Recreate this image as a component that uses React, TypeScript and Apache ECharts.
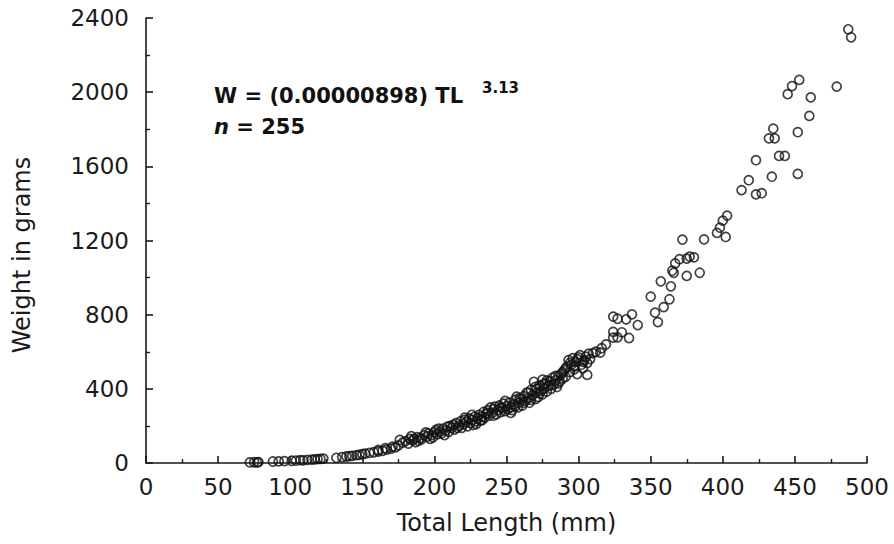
import React, { useEffect, useRef } from 'react';
import * as echarts from 'echarts';

// [total length mm, weight g]
const smallFish: number[][] = [
  [72, 3], [75, 4], [77, 3], [78, 5], [88, 8], [92, 9], [96, 10], [101, 12], [104, 13], [107, 15],
  [109, 14], [112, 17], [115, 18], [117, 20], [119, 21], [121, 22], [123, 24], [132, 28], [136, 32],
  [139, 35], [141, 37], [143, 38], [146, 42], [148, 44], [150, 48], [152, 50], [155, 55], [158, 58],
  [161, 62], [161, 70], [164, 66], [166, 80], [167, 72], [170, 78], [171, 88], [173, 84],
];
const fish175to205: number[][] = [
  [175, 95], [176, 124], [178, 110], [180, 118], [182, 105], [183, 130], [184, 145], [185, 122],
  [186, 130], [187, 112], [188, 140], [189, 120], [190, 135], [191, 128], [193, 150], [194, 165],
  [195, 142], [196, 160], [197, 130], [198, 150], [199, 138], [200, 165], [201, 178], [202, 155],
  [203, 185], [204, 170],
];
const fish205to230: number[][] = [
  [205, 160], [206, 185], [207, 150], [208, 175], [209, 196], [210, 168], [211, 200], [212, 190],
  [213, 205], [214, 180], [215, 215], [216, 190], [217, 200], [218, 225], [219, 190], [220, 210],
  [221, 232], [221, 245], [222, 220], [223, 198], [224, 240], [225, 215], [226, 232], [226, 260],
  [227, 205], [228, 250], [229, 225], [229, 210], [230, 240],
];
const fish230to260: number[][] = [
  [231, 260], [232, 230], [233, 250], [233, 230], [234, 275], [235, 245], [236, 265], [237, 285],
  [237, 270], [238, 255], [239, 300], [240, 270], [241, 290], [241, 255], [242, 304], [243, 262],
  [244, 285], [245, 310], [246, 275], [246, 300], [247, 295], [248, 320], [249, 280], [249, 335],
  [250, 305], [251, 290], [252, 325], [253, 300], [253, 270], [254, 285], [255, 315], [256, 340],
  [256, 305], [257, 358], [258, 300], [259, 325], [259, 350], [260, 345],
];
const fish260to290: number[][] = [
  [261, 310], [262, 360], [262, 325], [263, 335], [264, 380], [265, 350], [265, 380], [266, 325],
  [267, 395], [267, 340], [268, 365], [269, 438], [270, 345], [270, 410], [271, 380], [271, 400],
  [272, 355], [273, 420], [273, 375], [274, 390], [275, 450], [275, 370], [276, 400], [276, 425],
  [277, 430], [278, 385], [278, 445], [279, 415], [280, 440], [281, 400], [281, 420], [282, 460],
  [283, 425], [284, 445], [284, 470], [285, 410], [286, 470], [286, 430], [287, 440], [288, 480],
  [289, 455], [289, 490], [290, 500],
];
const fish290to320: number[][] = [
  [291, 465], [291, 510], [292, 520], [293, 555], [294, 490], [294, 540], [295, 530], [296, 565],
  [297, 505], [297, 520], [298, 545], [299, 480], [299, 560], [300, 570], [301, 582], [302, 530],
  [303, 510], [303, 545], [304, 555], [305, 573], [306, 475], [306, 539], [307, 590], [308, 560],
  [310, 592], [312, 600], [315, 595], [316, 619], [319, 640],
];
const fish320to370: number[][] = [
  [324, 789], [327, 778], [333, 775], [337, 802], [341, 744], [324, 707], [330, 705], [324, 676],
  [327, 678], [335, 674], [350, 897], [353, 811], [355, 760], [357, 980], [359, 841], [363, 883],
  [364, 953], [365, 1037], [366, 1026], [367, 1077],
];
const fish370to410: number[][] = [
  [370, 1099], [372, 1205], [375, 1102], [375, 1009], [377, 1113], [380, 1109], [384, 1026],
  [387, 1206], [396, 1241], [398, 1269], [400, 1307], [402, 1219], [403, 1334],
];
const fish410plus: number[][] = [
  [413, 1472], [418, 1525], [423, 1449], [427, 1455], [423, 1633], [434, 1544], [435, 1803],
  [432, 1751], [436, 1751], [439, 1656], [443, 1656], [445, 1989], [448, 2033], [452, 1784],
  [452, 1559], [453, 2066], [460, 1872], [461, 1972], [479, 2030], [487, 2339], [489, 2296],
];

const xTickValues = [0, 50, 100, 150, 200, 250, 300, 350, 400, 450, 500];
const yTickValues = [0, 400, 800, 1200, 1600, 2000, 2400];

const equationText = 'W = (0.00000898) TL';
const exponentText = '3.13';
const sampleSizeText = '255';

const FONT = 'DejaVu Sans';

export default function App() {
  const ref = useRef<HTMLDivElement>(null);
  useEffect(() => {
    if (!ref.current) return;
    const chart = echarts.init(ref.current, undefined, { renderer: 'svg' });
    const data = [
      ...smallFish, ...fish175to205, ...fish205to230, ...fish230to260,
      ...fish260to290, ...fish290to320, ...fish320to370, ...fish370to410, ...fish410plus,
    ];
    chart.setOption({
      animation: false,
      backgroundColor: '#ffffff',
      grid: { left: 146, right: 27, top: 18, bottom: 81 },
      xAxis: {
        type: 'value',
        min: xTickValues[0],
        max: xTickValues[xTickValues.length - 1],
        interval: 50,
        name: 'Total Length (mm)',
        nameLocation: 'middle',
        nameGap: 48,
        nameTextStyle: { fontFamily: FONT, fontSize: 24, color: '#1a1a1a' },
        axisLine: { show: true, lineStyle: { color: '#1a1a1a', width: 1.6 } },
        axisTick: { show: true, inside: true, length: 7, lineStyle: { color: '#1a1a1a', width: 1.6 } },
        minorTick: { show: true, splitNumber: 2, length: 4, lineStyle: { color: '#1a1a1a', width: 1.4 } },
        splitLine: { show: false },
        axisLabel: { fontFamily: FONT, fontSize: 23, color: '#1a1a1a', margin: 12, formatter: (v: number) => String(v) },
      },
      yAxis: {
        type: 'value',
        min: yTickValues[0],
        max: yTickValues[yTickValues.length - 1],
        interval: 400,
        axisLine: { show: true, lineStyle: { color: '#1a1a1a', width: 1.6 } },
        axisTick: { show: true, inside: true, length: 7, lineStyle: { color: '#1a1a1a', width: 1.6 } },
        minorTick: { show: true, splitNumber: 2, length: 4, lineStyle: { color: '#1a1a1a', width: 1.4 } },
        splitLine: { show: false },
        axisLabel: { fontFamily: FONT, fontSize: 23, color: '#1a1a1a', margin: 17, formatter: (v: number) => String(v) },
      },
      graphic: [
        {
          type: 'text',
          x: 22, y: 255, rotation: Math.PI / 2,
          style: {
            text: 'Weight in grams', fontFamily: FONT, fontSize: 24, fill: '#1a1a1a',
            textAlign: 'center', textVerticalAlign: 'middle',
          },
        },
        {
          type: 'text', x: 214, y: 96,
          style: {
            text: equationText, fontFamily: FONT, fontSize: 21, fontWeight: 'bold', fill: '#111',
            textVerticalAlign: 'middle',
          },
        },
        {
          type: 'text', x: 482, y: 88,
          style: {
            text: exponentText, fontFamily: FONT, fontSize: 15, fontWeight: 'bold', fill: '#111',
            textVerticalAlign: 'middle',
          },
        },
        {
          type: 'text', x: 214, y: 127,
          style: {
            text: '{i|n}{b| = ' + sampleSizeText + '}',
            textVerticalAlign: 'middle',
            rich: {
              i: { fontFamily: FONT, fontSize: 21, fontWeight: 'bold', fontStyle: 'italic', fill: '#111', color: '#111' },
              b: { fontFamily: FONT, fontSize: 21, fontWeight: 'bold', fill: '#111', color: '#111' },
            },
          },
        },
      ],
      series: [
        {
          type: 'scatter',
          data,
          symbol: 'circle',
          symbolSize: 9,
          itemStyle: { color: 'rgba(255,255,255,0)', borderColor: '#111', borderWidth: 1.7 },
        },
      ],
    });
    return () => chart.dispose();
  }, []);
  return (
    <div
      ref={ref}
      style={{ position: 'absolute', left: 0, top: 0, width: 894, height: 544, background: '#fff' }}
    />
  );
}
